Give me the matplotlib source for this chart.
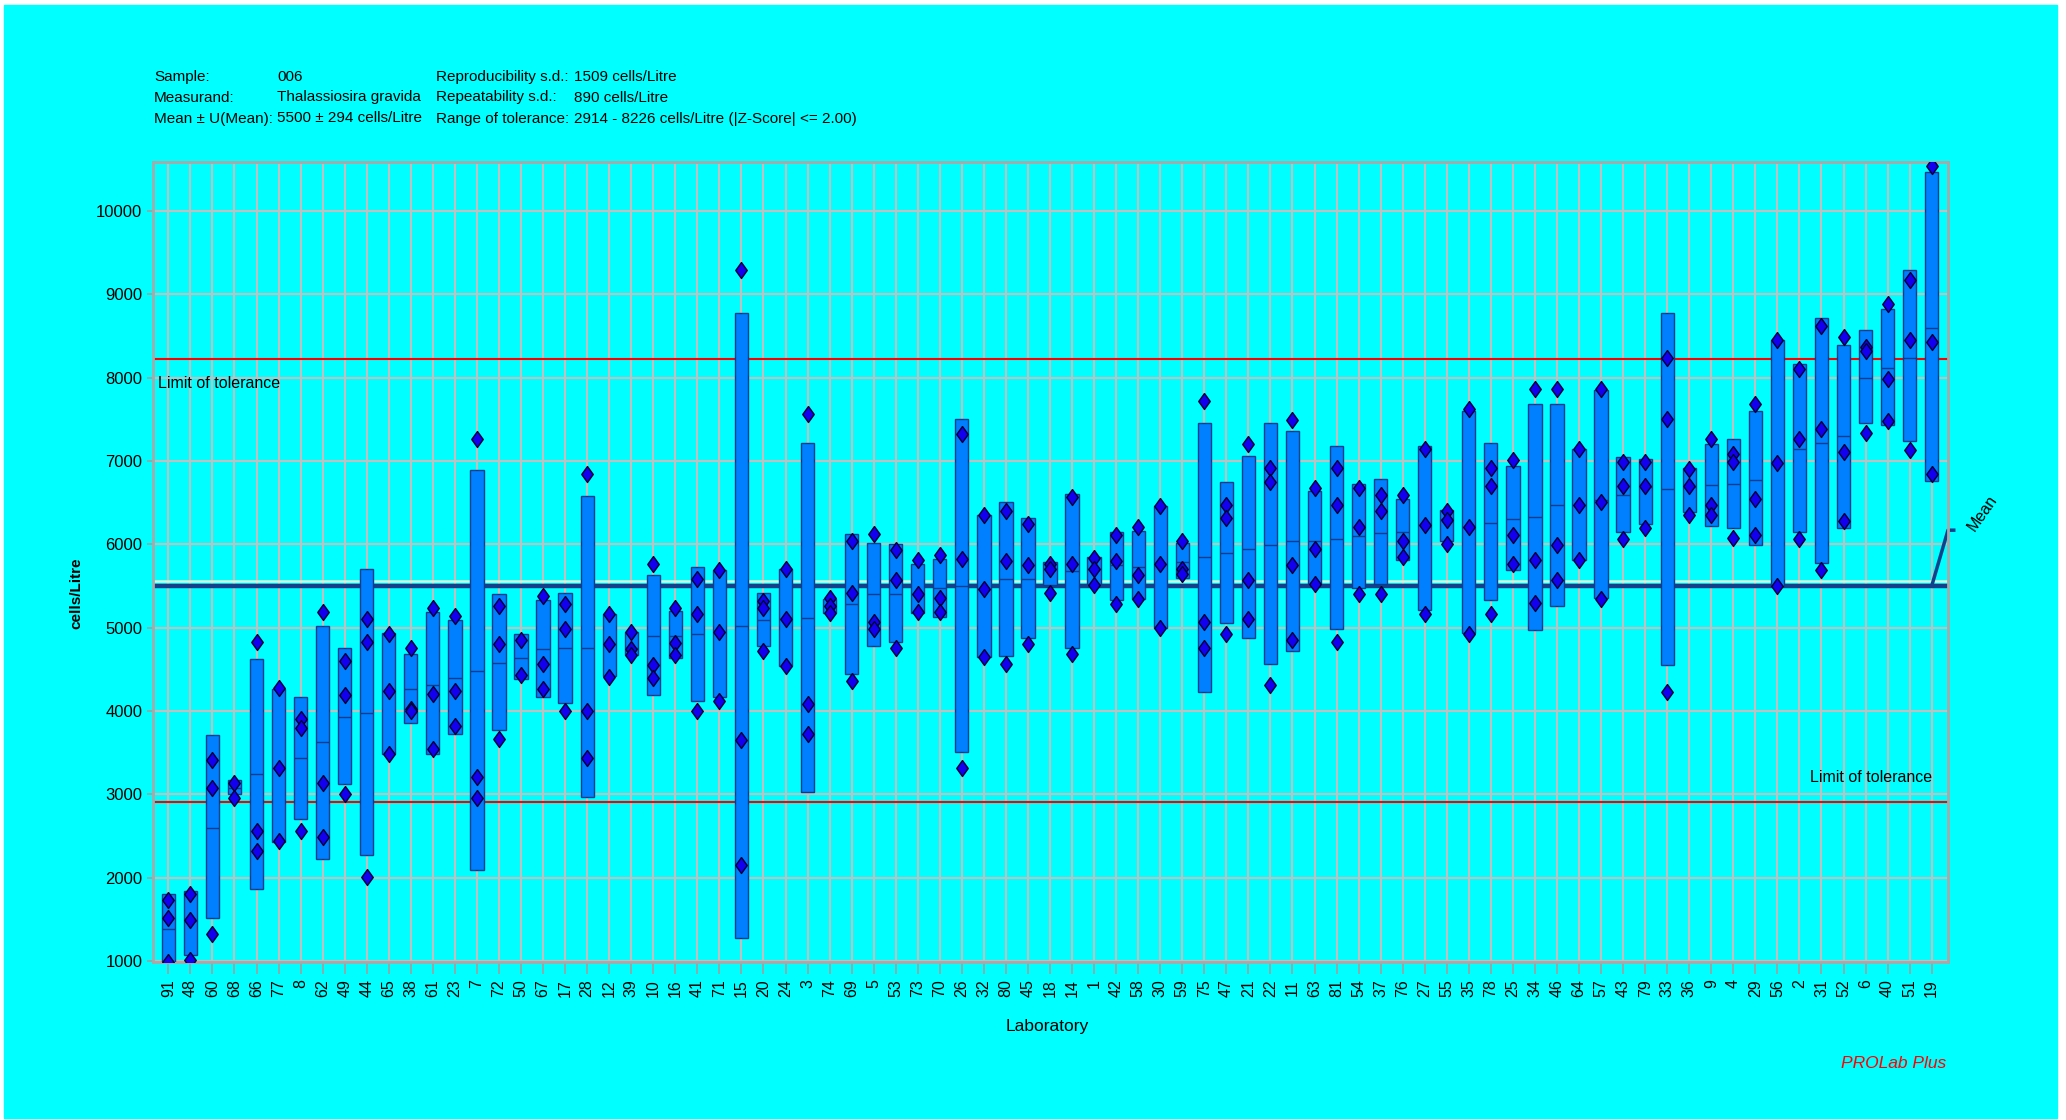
import numpy as np
import matplotlib
matplotlib.use("Agg")
import matplotlib.pyplot as plt
from matplotlib import font_manager
from matplotlib.patches import Rectangle

# Laboratory order as on the x axis
labs = [91, 48, 60, 68, 66, 77, 8, 62, 49, 44, 65, 38, 61, 23, 7, 72, 50, 67, 17, 28, 12,
        39, 10, 16, 41, 71, 15, 20, 24, 3, 74, 69, 5, 53, 73, 70, 26, 32, 80, 45, 18, 14,
        1, 42, 58, 30, 59, 75, 47, 21, 22, 11, 63, 81, 54, 37, 76, 27, 55, 35, 78, 25, 34,
        46, 64, 57, 43, 79, 33, 36, 9, 4, 29, 56, 2, 31, 52, 6, 40, 51, 19]

# box upper / lower edge (cells/Litre)
box_hi = [1800, 1840, 3710, 3170, 4620, 4270, 4170, 5020, 4760, 5710, 4940, 4690, 5190, 5090, 6890, 5400, 4930, 5330, 5420, 6580, 5160,
          4950, 5630, 5200, 5730, 5690, 8780, 5420, 5710, 7220, 5340, 6130, 6020, 6000, 5760, 5830, 7510, 6350, 6510, 6320, 5790, 6610,
          5850, 6150, 6160, 6460, 6020, 7460, 6750, 7060, 7460, 7360, 6640, 7180, 6730, 6780, 6540, 7180, 6410, 7600, 7220, 6940, 7690,
          7690, 7140, 7850, 7050, 7030, 8780, 6920, 7200, 7270, 7600, 8450, 8170, 8720, 8390, 8570, 8820, 9290, 10470]
box_lo = [950, 1070, 1520, 3000, 1860, 2430, 2700, 2220, 3120, 2270, 3490, 3860, 3480, 3730, 2090, 3770, 4390, 4170, 4100, 2970, 4420,
          4670, 4190, 4640, 4120, 4170, 1280, 4780, 4540, 3030, 5180, 4450, 4780, 4830, 5180, 5130, 3510, 4650, 4660, 4880, 5510, 4760,
          5530, 5330, 5340, 5000, 5600, 4230, 5060, 4880, 4570, 4720, 5530, 4990, 5480, 5530, 5810, 5210, 6040, 4940, 5330, 5690, 4970,
          5260, 5810, 5360, 6150, 6250, 4550, 6390, 6220, 6200, 5990, 5500, 6150, 5780, 6200, 7460, 7430, 7240, 6760]
median = [1390, 1480, 2600, 3080, 3240, 3320, 3440, 3630, 3930, 3980, 4240, 4270, 4310, 4400, 4480, 4580, 4640, 4740, 4760, 4760, 4810,
          4760, 4900, 4900, 4930, 4950, 5020, 5090, 5110, 5120, 5260, 5290, 5400, 5400, 5400, 5480, 5500, 5470, 5590, 5590, 5710, 5680,
          5710, 5750, 5730, 5760, 5790, 5850, 5900, 5940, 5990, 6040, 6040, 6070, 6100, 6140, 6150, 6230, 6300, 6210, 6260, 6310, 6330,
          6470, 6470, 6530, 6590, 6690, 6660, 6690, 6710, 6730, 6770, 6980, 7150, 7220, 7300, 8000, 8120, 8240, 8600]

# single results (replicates) per laboratory
rep1 = [1730, 1800, 3410, 3140, 4830, 4280, 3910, 5190, 4600, 5110, 4930, 4760, 5240, 5140, 7270, 5260, 4850, 5380, 5290, 6840, 5170,
        4950, 5760, 5240, 5590, 5690, 9290, 5320, 5710, 7560, 5360, 6040, 6120, 5930, 5810, 5870, 7320, 6350, 6400, 6240, 5760, 6570,
        5840, 6110, 6210, 6460, 6040, 7720, 6470, 7210, 6920, 7490, 6680, 6920, 6680, 6590, 6590, 7150, 6400, 7620, 6920, 7010, 7860,
        7860, 7150, 7860, 6990, 6990, 8240, 6910, 7270, 7090, 7690, 8450, 8100, 8620, 8490, 8370, 8880, 9170, 10540]
rep2 = [1520, 1490, 3075, 2955, 2560, 3320, 3800, 3140, 4190, 4830, 4240, 4030, 4200, 4240, 3210, 4800, 4430, 4570, 4990, 4000, 4810,
        4740, 4550, 4820, 5170, 4950, 3650, 5240, 5110, 4080, 5260, 5420, 5070, 5570, 5400, 5360, 5830, 5470, 5800, 5750, 5710, 5770,
        5710, 5800, 5630, 5760, 5710, 5070, 6320, 5570, 6750, 5750, 5950, 6470, 6210, 6400, 6040, 6230, 6290, 6210, 6700, 6110, 5810,
        5990, 6470, 6510, 6700, 6700, 7500, 6700, 6470, 6990, 6540, 6980, 7270, 7390, 7110, 8320, 7980, 8450, 8430]
rep3 = [990, 1015, 1325, np.nan, 2320, 2440, 2560, 2490, 3010, 2010, 3490, 4000, 3540, 3815, 2960, 3670, np.nan, 4270, 4000, 3440, 4410,
        4670, 4400, 4670, 4000, 4120, 2150, 4720, 4540, 3720, 5180, 4360, 4990, 4760, 5190, 5190, 3320, 4650, 4560, 4810, 5420, 4680,
        5510, 5280, 5350, 5000, 5650, 4760, 4930, 5110, 4310, 4850, 5530, 4830, 5400, 5400, 5850, 5160, 6000, 4930, 5160, 5770, 5300,
        5570, 5810, 5350, 6070, 6200, 4230, 6350, 6350, 6080, 6110, 5500, 6070, 5690, 6280, 7340, 7480, 7130, 6840]

mean_value = 5500
tol_low, tol_high = 2914, 8226

header_rows = [
    ("Sample:", "006", "Reproducibility s.d.:", "1509 cells/Litre"),
    ("Measurand:", "Thalassiosira gravida", "Repeatability s.d.:", "890 cells/Litre"),
    ("Mean \u00b1 U(Mean):", "5500 \u00b1 294 cells/Litre", "Range of tolerance:", "2914 - 8226 cells/Litre (|Z-Score| <= 2.00)"),
]

# font: narrow sans if present
def have(name):
    try:
        font_manager.findfont(name, fallback_to_default=False)
        return True
    except Exception:
        return False

fam = ["Liberation Sans Narrow", "DejaVu Sans"] if have("Liberation Sans Narrow") else ["Liberation Sans", "DejaVu Sans"]
plt.rcParams["font.family"] = fam

W, H = 2066, 1120
cyan = "#00FFFF"
fig = plt.figure(figsize=(W / 100, H / 100), dpi=100, facecolor="white")
fig.patches.append(Rectangle((4 / W, 2 / H), (2057 - 4) / W, (1115 - 2) / H,
                             transform=fig.transFigure, color=cyan, zorder=-10))

ax = fig.add_axes([152.7 / W, 1 - 962 / H, (1948 - 152.7) / W, (962 - 161.7) / H])
ax.set_facecolor(cyan)

x = np.arange(len(labs))
lo = np.array(box_lo)
hi = np.array(box_hi)

ax.bar(x, hi - lo, bottom=lo, width=0.6, color="#0080FF", edgecolor="#0a3c8c", linewidth=1.0, zorder=3)
ax.hlines(median, x - 0.3, x + 0.3, color="#0a3c8c", linewidth=1.0, zorder=4)

diamond = [(0, 1), (0.72, 0), (0, -1), (-0.72, 0), (0, 1)]
for r in (rep1, rep2, rep3):
    ax.plot(x, r, linestyle="none", marker=diamond, markersize=11.5,
            markerfacecolor="#1400F0", markeredgecolor="#000030", markeredgewidth=1.0, zorder=5)

# tolerance and mean lines
ax.axhline(tol_high, color="#FF0000", linewidth=1.5, zorder=2)
ax.axhline(tol_low, color="#FF0000", linewidth=1.5, zorder=2)
ax.axhline(mean_value + 58, color="#d2f5dc", linewidth=1.8, zorder=2)
ax.axhline(mean_value, color="#12418c", linewidth=3.2, zorder=2)

ax.set_xlim(-0.71, 80.74)
ax.set_ylim(988, 10592)

ax.set_xticks(x)
ax.set_xticklabels([str(l) for l in labs], rotation=90, fontsize=11.5, va="top")
ax.set_yticks(np.arange(1000, 10001, 1000))
ax.set_yticklabels([str(v) for v in range(1000, 10001, 1000)], fontsize=12)
ax.tick_params(axis="x", length=8.5, width=1.2, color="#a0a0a0", pad=4)
ax.tick_params(axis="y", length=4.5, width=1.2, color="#a0a0a0", pad=3)
ax.grid(True, color="#c0c0c0", linewidth=1.5, zorder=1)
ax.set_axisbelow(True)
for s in ax.spines.values():
    s.set_color("#a8a8a8")
    s.set_linewidth(2)

ax.text(-0.47, 7935, "Limit of tolerance", fontsize=11.5, va="center", ha="left", zorder=6)
ax.text(80.0, 3205, "Limit of tolerance", fontsize=11.5, va="center", ha="right", zorder=6)

# Mean marker at the right
ax.plot([80, 80.74, 81.0], [mean_value, 6170, 6170], color="#12418c", linewidth=2.5, clip_on=False)
ax.text(82.3, 6380, "Mean", fontsize=11.5, rotation=55, ha="center", va="center")

# header block
cols = [154, 277, 436, 574]
rows_y = [77, 97.5, 118.5]
for yy, row in zip(rows_y, header_rows):
    for xx, txt in zip(cols, row):
        fig.text(xx / W, 1 - yy / H, txt, fontsize=11, ha="left", va="center")

fig.text(76 / W, 1 - 593 / H, "cells/Litre", rotation=90, fontsize=11, fontweight="bold",
         ha="center", va="center")
fig.text(1047 / W, 1 - 1026 / H, "Laboratory", fontsize=12.5, ha="center", va="center")
fig.text(1894 / W, 1 - 1063 / H, "PROLab Plus", fontsize=12.5, color="#FF0000", style="italic",
         ha="center", va="center")

fig.savefig("out.png", dpi=100, facecolor=fig.get_facecolor())
